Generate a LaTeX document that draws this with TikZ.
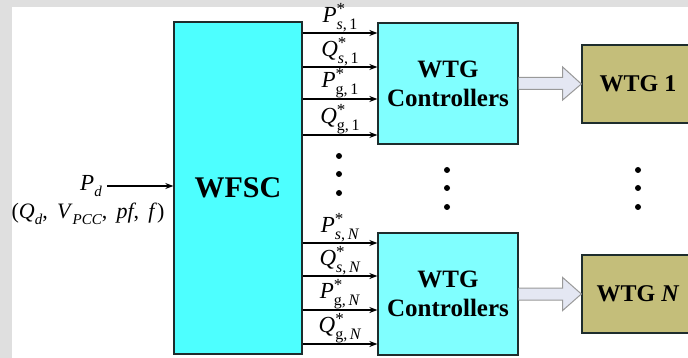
\documentclass[tikz,border=0pt]{standalone}
\usepackage{fontspec}
\setmainfont{Liberation Serif}
\usetikzlibrary{arrows.meta,positioning,calc}

\definecolor{wfscfill}{RGB}{77,255,255}
\definecolor{ctrlfill}{RGB}{128,255,255}
\definecolor{wtgfill}{RGB}{196,190,122}
\definecolor{hollowfill}{RGB}{228,231,243}
\definecolor{boxline}{RGB}{30,45,45}

% symbol with star and two-part index, e.g. P*_{s,1}
\newcommand{\setpt}[3]{\textit{#1}\rlap{\raisebox{.36em}{\fontsize{17}{17}\selectfont *}}%
    \raisebox{-.3em}{\fontsize{16}{16}\selectfont #2,\,#3}}
\newcommand{\subix}[1]{\raisebox{-.3em}{\fontsize{15}{15}\selectfont\textit{#1}}}

\begin{document}
\begin{tikzpicture}[
    x=1pt, y=-1pt,
    >={Stealth[length=8pt,width=6pt]},
    block/.style={rectangle, draw=boxline, line width=1.3pt, align=center,
                  inner sep=0pt, font=\fontsize{25}{29}\selectfont\bfseries},
    sig/.style={->, line width=1.2pt},
    lbl/.style={font=\fontsize{23}{25}\selectfont, inner sep=0.5pt},
    hollow/.style={draw=gray!80, fill=hollowfill, line width=1pt, line join=miter},
    dot/.style={circle, fill=black, inner sep=0pt, minimum size=6pt}
]
    \useasboundingbox (0,0) rectangle (688,358);
    \fill[gray!25] (0,0) rectangle (688,358);
    \fill[white] (12,7) rectangle (688,358);

    \node[block, fill=wfscfill, minimum width=128, minimum height=332,
          font=\fontsize{30}{34}\selectfont\bfseries] (wfsc) at (238,188) {WFSC};
    \node[block, fill=ctrlfill, minimum width=140, minimum height=121] (ctrl1) at (448,83.5)
        {WTG\\Controllers};
    \node[block, fill=ctrlfill, minimum width=140, minimum height=122] (ctrlN) at (448,294)
        {WTG\\Controllers};
    \node[block, fill=wtgfill, minimum width=112, minimum height=78,
          font=\fontsize{24}{28}\selectfont\bfseries] (wtg1) at (638,84) {WTG 1};
    \node[block, fill=wtgfill, minimum width=112, minimum height=78,
          font=\fontsize{24}{28}\selectfont\bfseries] (wtgN) at (638,294) {WTG \textit{N}};

    % set points to the turbine controllers
    \foreach \y/\s in {33/{\setpt{P}{\textit{s}}{1}}, 67/{\setpt{Q}{\textit{s}}{1}},
                       99/{\setpt{P}{g}{1}}, 135/{\setpt{Q}{g}{1}}} {
        \coordinate (r) at (0,\y);
        \draw[sig] (wfsc.east |- r) -- node[lbl, above] {\s} (ctrl1.west |- r);
    }
    \foreach \y/\s in {243/{\setpt{P}{\textit{s}}{\textit{N}}}, 276/{\setpt{Q}{\textit{s}}{\textit{N}}},
                       310/{\setpt{P}{g}{\textit{N}}}, 344/{\setpt{Q}{g}{\textit{N}}}} {
        \coordinate (r) at (0,\y);
        \draw[sig] (wfsc.east |- r) -- node[lbl, above] {\s} (ctrlN.west |- r);
    }

    % wide arrows to the turbines
    \foreach \n in {1,N} {
        \filldraw[hollow] ($(ctrl\n.east)+(0,-6)$) -- ($(ctrl\n.east)+(44,-6)$)
            -- ($(ctrl\n.east)+(44,-16.5)$) -- (wtg\n.west)
            -- ($(ctrl\n.east)+(44,16.5)$) -- ($(ctrl\n.east)+(44,6)$)
            -- ($(ctrl\n.east)+(0,6)$);
    }

    % dots
    \foreach \y in {156,174,193} \node[dot] (da\y) at (339,\y) {};
    \foreach \y in {170,188,207} {
        \node[dot] (db\y) at (447,\y) {};
        \node[dot] (dc\y) at (638,\y) {};
    }

    % inputs
    \node[lbl] (pd) at (91,186) {\textit{P}\subix{d}};
    \node[lbl, font=\fontsize{22}{24}\selectfont] (extra) at (88,214)
        {(\textit{Q}\subix{d},\, \textit{V}\subix{PCC},\, \textit{pf},\, \textit{f})};
    \draw[sig, shorten <=5pt] (pd.east) -- (wfsc.west |- pd.east);
\end{tikzpicture}
\end{document}
